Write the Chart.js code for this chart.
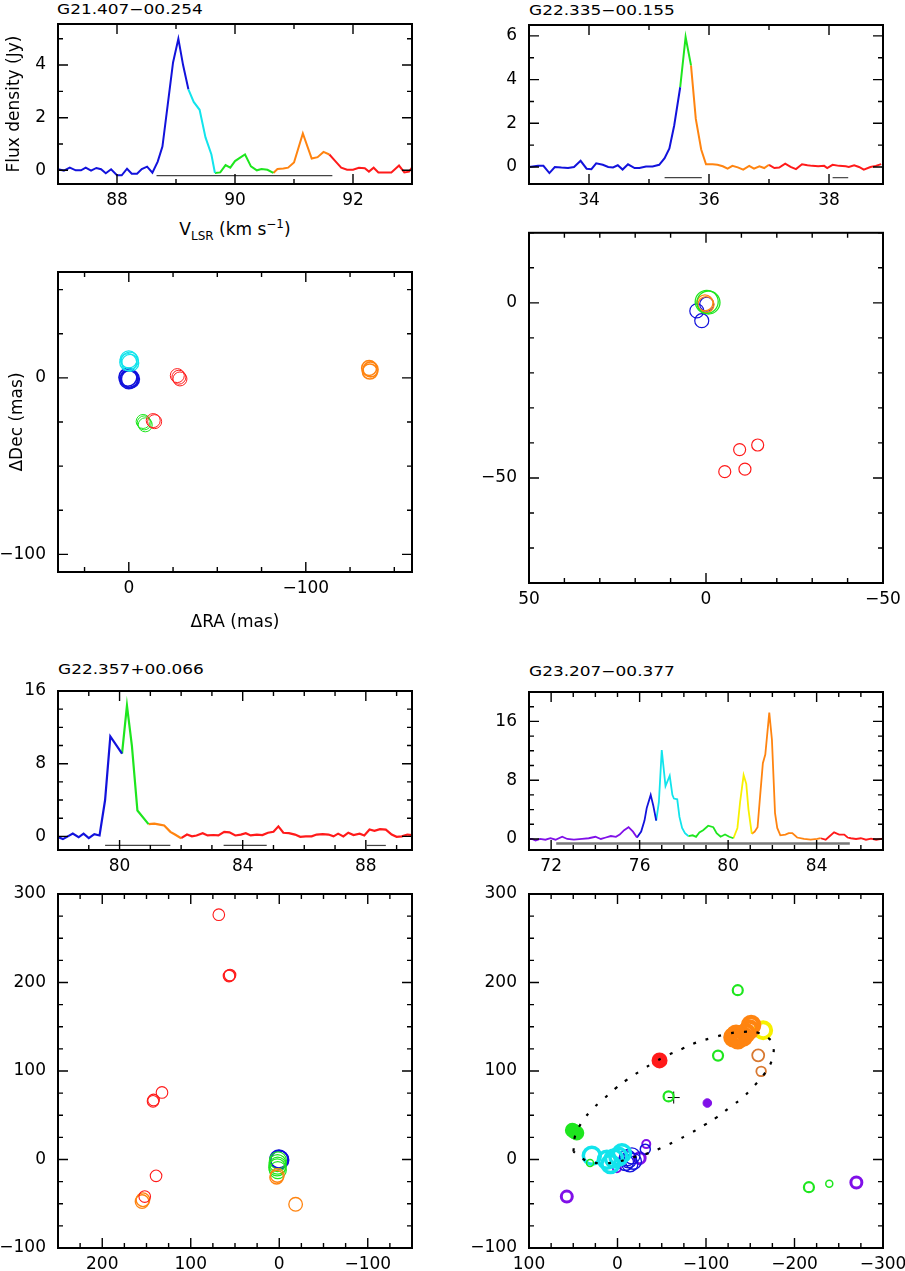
<!DOCTYPE html>
<html>
<head>
<meta charset="utf-8">
<script src="https://cdn.jsdelivr.net/npm/chart.js@4.4.1/dist/chart.umd.min.js"></script>
<style>
  body { margin: 0; background: #fff; width: 905px; height: 1271px; position: relative; overflow: hidden; font-family: "DejaVu Sans", sans-serif; }
  canvas { position: absolute; }
  .ttl { position: absolute; font-size: 14px; line-height: 14px; white-space: nowrap; transform: scaleX(1.21); transform-origin: 0 0; }
  .vlsr { position: absolute; left: 35px; width: 400px; text-align: center; font-size: 17px; line-height: 17px; white-space: nowrap; }
  .vlsr span { position: relative; font-size: 12px; }
</style>
</head>
<body>
<div class="ttl" style="left:57px;top:2px">G21.407−00.254</div>
<div class="ttl" style="left:529px;top:3px">G22.335−00.155</div>
<div class="ttl" style="left:58px;top:662px">G22.357+00.066</div>
<div class="ttl" style="left:529px;top:664px">G23.207−00.377</div>
<div class="vlsr" style="top:221px">V<span style="top:5px">LSR</span> (km s<span style="top:-7px">−1</span>)</div>

<canvas id="p1" width="450" height="250" style="left:0;top:0"></canvas>
<canvas id="p2" width="455" height="220" style="left:450px;top:0"></canvas>
<canvas id="p3" width="450" height="400" style="left:0;top:250px"></canvas>
<canvas id="p4" width="455" height="430" style="left:450px;top:220px"></canvas>
<canvas id="p5" width="450" height="230" style="left:0;top:650px"></canvas>
<canvas id="p6" width="455" height="230" style="left:450px;top:650px"></canvas>
<canvas id="p7" width="450" height="391" style="left:0;top:880px"></canvas>
<canvas id="p8" width="455" height="391" style="left:450px;top:880px"></canvas>

<script>
// ---- spectra: [velocity km/s, flux Jy] ----
const g21Blue = [[87.0,0.04],[87.1,-0.01],[87.2,0.1],[87.3,0.0],[87.39,0.0],[87.47,0.1],[87.56,-0.01],[87.65,0.09],[87.73,0.04],[87.81,-0.11],[87.9,0.04],[88.0,-0.19],[88.08,-0.19],[88.17,0.06],[88.25,-0.13],[88.34,-0.13],[88.42,0.05],[88.51,0.14],[88.6,-0.09],[88.69,0.33],[88.77,0.9],[88.86,2.5],[88.95,4.1],[89.04,5.0],[89.12,4.0],[89.21,3.08]];
const g21Cyan = [[89.21,3.08],[89.3,2.6],[89.4,2.3],[89.5,1.25],[89.6,0.6],[89.66,-0.1]];
const g21Green = [[89.66,-0.1],[89.75,-0.08],[89.84,0.2],[89.92,0.1],[90.0,0.35],[90.1,0.5],[90.17,0.6],[90.27,0.15],[90.37,0.0],[90.45,0.05],[90.55,0.02],[90.65,-0.1]];
const g21Orange = [[90.65,-0.1],[90.72,0.05],[90.82,0.07],[90.9,0.1],[91.0,0.3],[91.15,1.4],[91.3,0.45],[91.4,0.5],[91.5,0.7],[91.6,0.6]];
const g21Red = [[91.6,0.6],[91.7,0.35],[91.8,0.1],[91.9,0.02],[92.0,0.02],[92.1,0.1],[92.2,0.08],[92.27,-0.05],[92.35,0.1],[92.43,-0.08],[92.55,-0.08],[92.65,-0.08],[92.78,0.18],[92.87,-0.08],[92.95,-0.05],[93.0,0.1]];
const g21Ranges = [[[88.67,-0.2],[91.65,-0.2]]];

const g22aBlue = [[33.0,0.0],[33.15,0.05],[33.24,0.05],[33.34,-0.28],[33.43,0.0],[33.54,-0.03],[33.65,-0.05],[33.75,0.0],[33.86,0.28],[33.96,-0.08],[34.04,-0.1],[34.12,0.17],[34.23,0.1],[34.32,0.0],[34.4,-0.02],[34.48,0.08],[34.56,-0.12],[34.65,0.12],[34.76,-0.05],[34.84,-0.05],[34.95,0.02],[35.06,0.02],[35.17,0.1],[35.26,0.4],[35.34,0.85],[35.42,1.9],[35.52,3.65]];
const g22aGreen = [[35.52,3.65],[35.61,5.95],[35.7,4.65]];
const g22aOrange = [[35.7,4.65],[35.78,2.2],[35.87,0.8],[35.95,0.12],[36.06,0.12],[36.14,0.1],[36.23,0.03],[36.31,-0.08],[36.39,0.05],[36.48,-0.02],[36.57,-0.12],[36.67,0.05],[36.75,-0.08],[36.84,0.03],[36.92,-0.05],[37.0,0.1]];
const g22aRed = [[37.0,0.1],[37.09,-0.05],[37.17,-0.03],[37.27,0.15],[37.36,0.0],[37.45,-0.1],[37.55,0.12],[37.64,0.08],[37.72,0.05],[37.82,0.03],[37.92,0.05],[37.97,-0.05],[38.06,0.1],[38.17,0.05],[38.28,0.03],[38.33,0.0],[38.42,0.08],[38.5,0.0],[38.58,-0.12],[38.69,0.0],[38.78,0.05],[38.87,0.13]];
const g22aRanges = [[[35.26,-0.49],[35.88,-0.49]],[[38.06,-0.49],[38.32,-0.49]]];

const g22bBlue = [[78.0,-0.07],[78.16,-0.3],[78.32,0.0],[78.48,0.3],[78.67,-0.1],[78.83,0.3],[79.0,-0.2],[79.18,0.25],[79.35,0.1],[79.53,4.0],[79.7,11.0],[80.08,9.1]];
const g22bGreen = [[80.08,9.1],[80.24,14.4],[80.4,10.0],[80.58,2.85],[80.94,1.35]];
const g22bOrange = [[80.94,1.35],[81.13,1.4],[81.3,1.3],[81.45,1.2],[81.65,0.5],[81.8,0.2],[82.0,-0.2]];
const g22bRed = [[82.0,-0.2],[82.19,0.2],[82.35,0.0],[82.5,0.1],[82.7,0.35],[82.86,0.1],[83.05,0.15],[83.21,0.1],[83.4,0.5],[83.57,0.45],[83.76,0.1],[83.94,0.2],[84.1,0.35],[84.26,0.1],[84.46,0.2],[84.64,0.15],[84.82,0.4],[85.0,0.5],[85.16,1.1],[85.32,0.4],[85.5,0.35],[85.7,0.2],[85.87,-0.05],[86.05,0.0],[86.24,0.0],[86.4,0.2],[86.6,0.25],[86.79,0.2],[86.95,0.0],[87.1,0.3],[87.27,0.0],[87.43,0.4],[87.6,0.15],[87.8,0.3],[87.95,0.1],[88.12,0.75],[88.28,0.6],[88.46,0.8],[88.65,0.75],[88.84,0.2],[89.0,-0.05],[89.17,0.0],[89.35,0.2],[89.5,0.15]];
const g22bRanges = [[[79.53,-1.0],[81.65,-1.0]],[[83.38,-1.0],[84.78,-1.0]],[[88.03,-1.0],[88.65,-1.0]]];

const g23Purple = [[70.92,0.0],[71.13,0.0],[71.3,-0.2],[71.5,0.0],[71.74,-0.1],[71.97,0.1],[72.2,-0.1],[72.5,0.3],[72.73,0.0],[73.03,-0.1],[73.4,0.0],[73.7,0.1],[74.0,0.3],[74.25,0.0],[74.47,0.2],[74.7,0.4],[74.93,0.3],[75.1,0.6],[75.3,1.2],[75.5,1.6],[75.7,1.0],[75.88,0.2]];
const g23Blue = [[75.88,0.2],[76.07,1.0],[76.22,2.5],[76.32,4.2],[76.5,6.0],[76.62,4.5],[76.75,2.5]];
const g23Cyan = [[76.75,2.5],[76.87,5.0],[77.0,12.1],[77.17,7.2],[77.36,8.6],[77.48,6.0],[77.55,5.5],[77.7,5.4],[77.8,3.0],[77.92,1.5],[78.05,0.8],[78.2,0.4]];
const g23Green = [[78.2,0.4],[78.4,0.5],[78.55,0.3],[78.7,0.9],[78.87,1.2],[79.1,1.8],[79.33,1.6],[79.48,0.8],[79.66,0.3],[79.86,0.6],[80.05,0.3],[80.24,0.1]];
const g23Yellow = [[80.24,0.1],[80.42,1.5],[80.54,5.0],[80.7,8.7],[80.82,7.5],[80.92,4.0],[81.07,0.7]];
const g23Orange = [[81.07,0.7],[81.2,1.0],[81.33,1.6],[81.45,6.0],[81.57,10.3],[81.68,11.5],[81.86,17.2],[81.98,13.5],[82.12,3.5],[82.22,1.5],[82.36,0.5],[82.59,0.6],[82.74,0.8],[82.9,0.8],[83.12,0.2],[83.43,0.0],[83.73,-0.1],[84.03,0.0],[84.18,0.1]];
const g23Red = [[84.18,0.1],[84.41,-0.1],[84.56,0.3],[84.79,0.9],[85.02,0.6],[85.25,0.6],[85.4,0.2],[85.55,0.1],[85.78,0.0],[86.0,0.1],[86.23,-0.1],[86.46,0.05],[86.69,-0.1],[87.0,0.05]];
const g23Ranges = [[[72.23,-0.63],[85.5,-0.63]]];

// ---- maser spot maps: [dRA mas, dDec mas] ----
const g21mCyan = [[0,10.5],[-0.6,9.8],[0.3,8.9],[-0.8,8.5]];
const g21mBlue = [[0.5,0.4],[-0.3,-0.2],[-0.9,-0.7],[0,-1]];
const g21mRed = [[-27.4,1.3],[-28.3,0.4],[-28.9,-0.6],[-13.8,-24.2],[-14.6,-24.8]];
const g21mGreen = [[-8.1,-24.7],[-8.7,-25.5],[-9.3,-26.6]];
const g21mOrange = [[-135.8,5.6],[-136.6,4.8],[-136.2,3.6]];

const g22amGreen = [[-0.7,0.1],[-0.2,0.3]];
const g22amOrange = [[0,-0.5],[0.3,0]];
const g22amBlue = [[-0.2,-0.4],[2.6,-2.3],[1.2,-5.1]];
const g22amRed = [[-9.5,-41.9],[-14.6,-40.6],[-5.3,-48.2],[-11.0,-47.5]];

const g22bmRed = [[68.3,276.6],[56.2,207.9],[55.6,208.4],[56.8,207.3],[132.5,75.8],[142.6,65.7],[142,67.3],[139.2,-18.5],[152,-41.9]];
const g22bmOrange = [[155,-47.5],[154,-45.5],[3,-20],[2.2,-18],[-18.5,-50.6]];
const g22bmGreen = [[1.5,-1],[2,-4],[1.8,-7],[2.3,-9],[1.6,-12]];
const g22bmBlue = [[0,0],[0.5,0.5],[-0.5,-0.5]];

const g23mRed = [[-47.5,112]];
const g23mOrange = [[-131,138],[-136,136],[-139,140],[-142,139],[-145,143],[-149,147],[-151,152],[-134,141]];
const g23mBrown = [[-159,117.7]];
const g23mBrownSmall = [[-162.3,99.6]];
const g23mYellow = [[-164.6,146]];
const g23mGreen = [[-135.9,191.3],[-113.6,117.4],[-57.7,71.3],[-216.3,-31.3]];
const g23mGreenSmall = [[-239.3,-27.5],[31,-4]];
const g23mGreenBlob = [[51,33],[48.5,31.5],[46,30]];
const g23mPurple = [[57.3,-41.9],[-269.9,-26],[-25,1.5]];
const g23mPurpleSmall = [[-32.5,17.4],[0.7,-9.8]];
const g23mPurpleDot = [[-101.5,63.8]];
const g23mCyan = [[29,4.2],[12,-0.3],[8,-5],[-5,7.2],[-1,3],[4,1]];
const g23mBlue = [[-12.5,-0.3],[-16.3,4],[-9,-3.4],[-14,-5],[-11,2],[-18,-2]];
const g23mBlueSmall = [[-31.4,11.7]];
const g23mCross = [[-63.5,70]];
const g23Ellipse = [[49.8,9],[47.9,26.8],[40.4,41.9],[29.1,56.2],[15.8,68.3],[2.6,80.0],[-11.7,90.9],[-26.4,100.4],[-41.5,109.8],[-56.6,117.7],[-72.8,124.9],[-89.8,132.5],[-106.8,137.4],[-123.8,141.9],[-140.8,144.2],[-159.6,143.0],[-173.6,134.7],[-176.6,127.9],[-174.0,110.9],[-165.3,95.8],[-153.2,81.9],[-140.8,69.4],[-126.8,58.9],[-112.5,47.9],[-97.4,38.5],[-81.5,29.1],[-66.0,21.1],[-50.2,13.6],[-35.1,7.2],[-18.1,2.6],[-1.1,-2.3],[15.8,-4.2],[34.7,-1.5],[49.8,9]];

const BLUE = '#1212dc', CYAN = '#12e4ec', GREEN = '#1ee61e', ORANGE = '#ff8410',
      RED = '#ff1a1a', PURPLE = '#8010e8', YELLOW = '#f8f000', BROWN = '#d87830';

Chart.defaults.font.family = '"DejaVu Sans", sans-serif';
Chart.defaults.font.size = 17;
Chart.defaults.color = '#000';
Chart.defaults.animation = false;
Chart.defaults.events = [];
Chart.defaults.plugins.legend.display = false;
Chart.defaults.plugins.tooltip.enabled = false;

const xy = pts => pts.map(([x, y]) => ({ x, y }));
const fmt = v => (v < 0 ? '\u2212' + Math.abs(v) : String(v));

const line = (pts, color, width = 2) => ({
  data: xy(pts), showLine: true, borderColor: color, borderWidth: width,
  pointRadius: 0, tension: 0, fill: false
});
const spots = (pts, color, r, bw = 1.2, fillColor = 'rgba(0,0,0,0)') => ({
  data: xy(pts), showLine: false, pointStyle: 'circle', pointRadius: r,
  pointBorderColor: color, pointBackgroundColor: fillColor, pointBorderWidth: bw
});

// axis with inward PGPLOT-style ticks (drawn by pgFrame)
function axis(dir, min, max, step, major, fit, extra) {
  return Object.assign({
    type: 'linear', min, max, bounds: 'data',
    grid: { display: false, drawTicks: false },
    border: { display: false },
    afterBuildTicks: s => {
      const out = [];
      for (let k = Math.ceil(min / step - 1e-9); k * step <= max + 1e-9; k++) {
        const v = +(k * step).toFixed(6);
        out.push({ value: v, pg: Math.abs(v / major - Math.round(v / major)) < 1e-6 });
      }
      s.ticks = out;
    },
    afterFit: s => {
      if (dir === 'x') { s.height = fit; s.paddingLeft = 0; s.paddingRight = 0; }
      else { s.width = fit; s.paddingTop = 0; s.paddingBottom = 0; }
    },
    ticks: { autoSkip: false, maxRotation: 0, padding: dir === 'x' ? 6 : 12,
             callback: (v, i, t) => (t[i].pg ? fmt(v) : '') }
  }, extra || {});
}

const pgFrame = {
  id: 'pgFrame',
  afterDraw(chart) {
    const { ctx, chartArea: a } = chart;
    ctx.save();
    ctx.strokeStyle = '#000';
    ctx.lineWidth = 1.4;
    ctx.beginPath();
    chart.scales.x.ticks.forEach(t => {
      const p = chart.scales.x.getPixelForValue(t.value), len = t.pg ? 10 : 5;
      ctx.moveTo(p, a.bottom); ctx.lineTo(p, a.bottom - len);
      ctx.moveTo(p, a.top); ctx.lineTo(p, a.top + len);
    });
    chart.scales.y.ticks.forEach(t => {
      const p = chart.scales.y.getPixelForValue(t.value), len = t.pg ? 10 : 5;
      ctx.moveTo(a.left, p); ctx.lineTo(a.left + len, p);
      ctx.moveTo(a.right, p); ctx.lineTo(a.right - len, p);
    });
    ctx.stroke();
    ctx.lineWidth = 2;
    ctx.strokeRect(a.left, a.top, a.right - a.left, a.bottom - a.top);
    ctx.restore();
  }
};

function panel(id, datasets, padding, xAxis, yAxis) {
  new Chart(document.getElementById(id), {
    type: 'scatter',
    data: { datasets },
    options: {
      responsive: false,
      layout: { padding },
      scales: { x: xAxis, y: yAxis },
      plugins: { legend: { display: false }, title: { display: false } }
    },
    plugins: [pgFrame]
  });
}

const ranges = (list, color = '#444', w = 1.2) => list.map(r => line(r, color, w));

// G21.407-00.254 spectrum
panel('p1',
  [...ranges(g21Ranges), line(g21Blue, BLUE), line(g21Cyan, CYAN), line(g21Green, GREEN), line(g21Orange, ORANGE), line(g21Red, RED)],
  { top: 24, right: 38, left: 0, bottom: 0 },
  axis('x', 87, 93, 1, 2, 66),
  axis('y', -0.52, 5.56, 1, 2, 58, { title: { display: true, text: 'Flux density (Jy)', padding: { top: 4, bottom: 0 } } }));

// G22.335-00.155 spectrum
panel('p2',
  [...ranges(g22aRanges), line(g22aBlue, BLUE), line(g22aGreen, GREEN), line(g22aOrange, ORANGE), line(g22aRed, RED)],
  { top: 25, right: 22, left: 0, bottom: 0 },
  axis('x', 33, 38.9, 1, 2, 36),
  axis('y', -0.78, 6.5, 1, 2, 79));

// G21.407-00.254 map
panel('p3',
  [spots(g21mCyan, CYAN, 8.5, 1.3), spots(g21mBlue, BLUE, 9, 1.6), spots(g21mRed, RED, 7, 1),
   spots(g21mGreen, GREEN, 7, 1), spots(g21mOrange, ORANGE, 7.5, 1.6)],
  { top: 22, right: 38, left: 0, bottom: 0 },
  axis('x', -160, 40, 25, 100, 78, { reverse: true, title: { display: true, text: '\u0394RA (mas)', padding: { top: 0, bottom: 17 } } }),
  axis('y', -110, 60, 25, 100, 58, { title: { display: true, text: '\u0394Dec (mas)', padding: { top: 7, bottom: 0 } } }));

// G22.335-00.155 map
panel('p4',
  [spots(g22amGreen, GREEN, 11.5, 1.3), spots(g22amOrange, ORANGE, 8, 1.3), spots(g22amBlue, BLUE, 7, 1.2), spots(g22amRed, RED, 6, 1.2)],
  { top: 9, right: 22, left: 0, bottom: 0 },
  axis('x', -50, 50, 10, 50, 67, { reverse: true }),
  axis('y', -80, 20, 10, 50, 79));

// G22.357+00.066 spectrum
panel('p5',
  [...ranges(g22bRanges), line(g22bBlue, BLUE, 2.2), line(g22bGreen, GREEN, 2.2), line(g22bOrange, ORANGE, 2.2), line(g22bRed, RED, 2.2)],
  { top: 41, right: 38, left: 0, bottom: 0 },
  axis('x', 78, 89.5, 1, 4, 30),
  axis('y', -1.5, 16, 2, 8, 58));

// G23.207-00.377 spectrum
panel('p6',
  [...ranges(g23Ranges, '#777', 2.5), line(g23Purple, PURPLE, 1.8), line(g23Blue, BLUE, 1.8), line(g23Cyan, CYAN, 1.8),
   line(g23Green, GREEN, 1.8), line(g23Yellow, YELLOW, 1.8), line(g23Orange, ORANGE, 1.8), line(g23Red, RED, 1.8)],
  { top: 42, right: 22, left: 0, bottom: 0 },
  axis('x', 71, 87, 1, 4, 30),
  axis('y', -1.5, 20, 2, 8, 79));

// G22.357+00.066 map
panel('p7',
  [spots(g22bmRed, RED, 5.8, 1.1), spots(g22bmOrange, ORANGE, 6.8, 1.3), spots(g22bmGreen, GREEN, 8.5, 1.2), spots(g22bmBlue, BLUE, 9, 1.6)],
  { top: 14, right: 38, left: 0, bottom: 0 },
  axis('x', -150, 250, 25, 100, 23, { reverse: true }),
  axis('y', -100, 300, 25, 100, 58));

// G23.207-00.377 map
panel('p8',
  [Object.assign(line(g23Ellipse, '#000', 2.2), { borderDash: [3, 10], tension: 0.4 }),
   spots(g23mGreen, GREEN, 5, 2.2), spots(g23mGreenSmall, GREEN, 3.5, 1.5), spots(g23mGreenBlob, GREEN, 6, 3, GREEN),
   spots(g23mCyan, CYAN, 8.5, 3.5), spots(g23mBlue, BLUE, 8, 1.3), spots(g23mBlueSmall, BLUE, 5, 1.5),
   spots(g23mPurple, PURPLE, 5.5, 3), spots(g23mPurpleSmall, PURPLE, 4, 2), spots(g23mPurpleDot, PURPLE, 4.3, 1, PURPLE),
   spots(g23mOrange, ORANGE, 8, 4.5), spots(g23mBrown, BROWN, 6, 1.8), spots(g23mBrownSmall, BROWN, 4.8, 1.8),
   spots(g23mYellow, YELLOW, 8, 4), spots(g23mRed, RED, 7, 2, RED),
   Object.assign(spots(g23mCross, '#000', 6, 1), { pointStyle: 'cross' })],
  { top: 14, right: 22, left: 0, bottom: 0 },
  axis('x', -300, 100, 25, 100, 23, { reverse: true }),
  axis('y', -100, 300, 25, 100, 79));
</script>
</body>
</html>
